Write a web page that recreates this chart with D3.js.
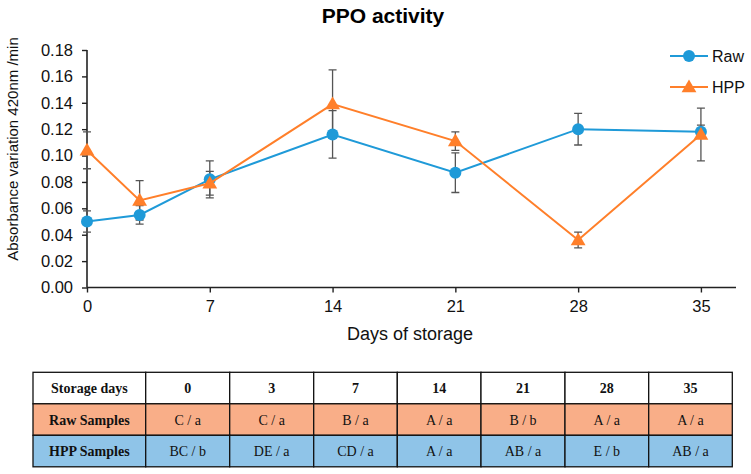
<!DOCTYPE html>
<html>
<head>
<meta charset="utf-8">
<script src="https://cdn.jsdelivr.net/npm/d3@7"></script>
<style>
  body { margin: 0; background: #fff; }
  svg { display: block; }
</style>
</head>
<body>
<script>
// chart data
var days = [0, 3, 7, 14, 21, 28, 35];
var rawMean = [0.050, 0.055, 0.082, 0.116, 0.087, 0.120, 0.118];
var rawErr  = [0.008, 0.007, 0.014, 0.018, 0.015, 0.012, 0.005];
var hppMean = [0.104, 0.066, 0.079, 0.139, 0.111, 0.036, 0.116];
var hppErr  = [0.014, 0.015, 0.009, 0.026, 0.007, 0.006, 0.020];
var xTicks = [0, 7, 14, 21, 28, 35];
var yTicks = [0, 0.02, 0.04, 0.06, 0.08, 0.10, 0.12, 0.14, 0.16, 0.18];

// table data
var tableHeader = ["Storage days", "0", "3", "7", "14", "21", "28", "35"];
var rawLetters = ["Raw Samples", "C / a", "C / a", "B / a", "A / a", "B / b", "A / a", "A / a"];
var hppLetters = ["HPP Samples", "BC / b", "DE / a", "CD / a", "A / a", "AB / a", "E / b", "AB / a"];

var blue = "#1f9ad8", orange = "#ff7f2a";
var sans = "'Liberation Sans', Arial, sans-serif";

var svg = d3.select("body").append("svg")
    .attr("width", 751)
    .attr("height", 474);

var margin = {left: 87, top: 50};
var plotW = 649, plotH = 237.5;

var x = d3.scaleLinear().domain([0, 37]).range([0, plotW]);
var y = d3.scaleLinear().domain([0, 0.18]).range([plotH, 0]);

var g = svg.append("g")
    .attr("transform", "translate(" + margin.left + "," + margin.top + ")");

svg.append("text")
    .attr("x", 383).attr("y", 23)
    .attr("text-anchor", "middle")
    .style("font", "bold 21px " + sans)
    .text("PPO activity");

var yAxis = g.append("g")
    .call(d3.axisLeft(y).tickValues(yTicks).tickFormat(d3.format(".2f")).tickSize(5).tickPadding(9));
var xAxis = g.append("g")
    .attr("transform", "translate(0," + plotH + ")")
    .call(d3.axisBottom(x).tickValues(xTicks).tickSize(5).tickPadding(8));

[xAxis, yAxis].forEach(function(a) {
  a.select(".domain").attr("stroke", "#222").attr("stroke-width", 1.6)
    .attr("d", a === xAxis ? "M0,0H" + plotW : "M0," + plotH + "V0");
  a.selectAll(".tick line").attr("stroke", "#222").attr("stroke-width", 1.4);
  a.selectAll("text").attr("fill", "#111")
    .style("font", "16.5px " + sans);
});

svg.append("text")
    .attr("transform", "translate(18,149) rotate(-90)")
    .attr("text-anchor", "middle")
    .style("font", "15px " + sans)
    .attr("fill", "#111")
    .text("Absorbance variation 420nm /min");

svg.append("text")
    .attr("x", 410).attr("y", 340)
    .attr("text-anchor", "middle")
    .style("font", "18px " + sans)
    .attr("fill", "#111")
    .text("Days of storage");

function series(mean, err) {
  return days.map(function(d, i) { return {day: d, v: mean[i], e: err[i]}; });
}
var raw = series(rawMean, rawErr);
var hpp = series(hppMean, hppErr);

var line = d3.line().x(function(d) { return x(d.day); }).y(function(d) { return y(d.v); });
var tri = d3.symbol().type(d3.symbolTriangle).size(95);

function errorBars(data) {
  var eb = g.append("g").attr("stroke", "#555").attr("stroke-width", 1.3).attr("fill", "none");
  eb.selectAll("path").data(data).enter().append("path")
    .attr("d", function(d) {
      var cx = x(d.day), t = y(d.v + d.e), b = y(d.v - d.e);
      return "M" + cx + "," + t + "V" + b +
        "M" + (cx - 4) + "," + t + "H" + (cx + 4) +
        "M" + (cx - 4) + "," + b + "H" + (cx + 4);
    });
}

errorBars(raw);
errorBars(hpp);

g.append("path").datum(raw)
    .attr("d", line).attr("fill", "none").attr("stroke", blue).attr("stroke-width", 2);
g.selectAll(".raw-pt").data(raw).enter().append("circle")
    .attr("class", "raw-pt")
    .attr("cx", function(d) { return x(d.day); })
    .attr("cy", function(d) { return y(d.v); })
    .attr("r", 6).attr("fill", blue);

g.append("path").datum(hpp)
    .attr("d", line).attr("fill", "none").attr("stroke", orange).attr("stroke-width", 2);
g.selectAll(".hpp-pt").data(hpp).enter().append("path")
    .attr("class", "hpp-pt")
    .attr("transform", function(d) { return "translate(" + x(d.day) + "," + (y(d.v) + 1) + ")"; })
    .attr("d", tri).attr("fill", orange);

// legend
var legend = svg.append("g");
[["Raw", blue, 56], ["HPP", orange, 87]].forEach(function(item) {
  var lg = legend.append("g").attr("transform", "translate(0," + item[2] + ")");
  lg.append("line").attr("x1", 670).attr("x2", 708).attr("stroke", item[1]).attr("stroke-width", 2);
  if (item[0] === "Raw") lg.append("circle").attr("cx", 689).attr("r", 6).attr("fill", item[1]);
  else lg.append("path").attr("transform", "translate(689,1)").attr("d", tri).attr("fill", item[1]);
  lg.append("text").attr("x", 712).attr("y", 6)
    .style("font", "16px " + sans)
    .attr("fill", "#111")
    .text(item[0]);
});

// table
var colX = [33, 145.7, 229.7, 313.7, 397.3, 481, 565, 648.7, 732.3];
var rowY = [372.3, 403.8, 435.3, 466.8];
var rows = [
  {cells: tableHeader, fill: "#ffffff", bold: true},
  {cells: rawLetters, fill: "#f9ae88", bold: false},
  {cells: hppLetters, fill: "#8fc4e8", bold: false}
];
var tbl = svg.append("g");
rows.forEach(function(r, ri) {
  r.cells.forEach(function(c, ci) {
    tbl.append("rect")
      .attr("x", colX[ci]).attr("y", rowY[ri])
      .attr("width", colX[ci + 1] - colX[ci]).attr("height", rowY[ri + 1] - rowY[ri])
      .attr("fill", r.fill).attr("stroke", "#111").attr("stroke-width", 1.3);
    tbl.append("text")
      .attr("x", (colX[ci] + colX[ci + 1]) / 2)
      .attr("y", (rowY[ri] + rowY[ri + 1]) / 2 + 5)
      .attr("text-anchor", "middle")
      .style("font", ((r.bold || ci === 0) ? "bold " : "") + "14px 'Liberation Serif', 'Times New Roman', serif")
      .attr("fill", "#111")
      .text(c);
  });
});
</script>
</body>
</html>
